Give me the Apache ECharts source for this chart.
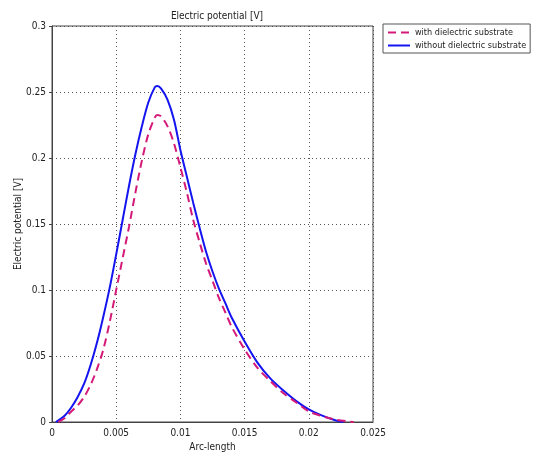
<!DOCTYPE html>
<html>
<head>
    <meta charset="utf-8" />
    <title>Electric potential</title>
    <script src="https://cdn.jsdelivr.net/npm/echarts@6/dist/echarts.min.js"></script>
</head>
<body style="margin:0">
    <div id="main" style="width:534px;height:452px"></div>
    <script type="text/javascript">

        // arc-length [m] vs potential [V]
        var withSub = [[0.0005, 0], [0.001, 0.003], [0.0015, 0.008], [0.002, 0.0125], [0.0025, 0.019], [0.003, 0.028],
            [0.0035, 0.04], [0.004, 0.055], [0.0045, 0.076], [0.005, 0.1], [0.0055, 0.124], [0.006, 0.148],
            [0.0065, 0.174], [0.007, 0.198], [0.0075, 0.218], [0.008, 0.2305], [0.0082, 0.2326], [0.0085, 0.2315],
            [0.009, 0.224], [0.0095, 0.211], [0.010, 0.193], [0.0105, 0.174], [0.011, 0.153], [0.0115, 0.136],
            [0.012, 0.12], [0.0125, 0.107], [0.013, 0.094], [0.0135, 0.083], [0.014, 0.072], [0.015, 0.055],
            [0.016, 0.041], [0.017, 0.031], [0.018, 0.022], [0.019, 0.015], [0.020, 0.008], [0.021, 0.0045],
            [0.022, 0.002], [0.023, 0.0005], [0.0235, 0]];
        var withoutSub = [[0.0003, 0], [0.001, 0.005], [0.0015, 0.011], [0.002, 0.019], [0.0025, 0.029], [0.003, 0.043],
            [0.0035, 0.06], [0.004, 0.08], [0.0045, 0.102], [0.005, 0.127], [0.0055, 0.153], [0.006, 0.179],
            [0.0065, 0.203], [0.007, 0.224], [0.0075, 0.242], [0.008, 0.2535], [0.0082, 0.2545], [0.0085, 0.2525],
            [0.009, 0.244], [0.0095, 0.229], [0.010, 0.206], [0.0105, 0.186], [0.011, 0.166], [0.0115, 0.147],
            [0.012, 0.129], [0.0125, 0.114], [0.013, 0.101], [0.0135, 0.09], [0.014, 0.079], [0.015, 0.061],
            [0.016, 0.045], [0.017, 0.033], [0.018, 0.024], [0.019, 0.016], [0.020, 0.0095], [0.021, 0.005],
            [0.022, 0.0015], [0.0227, 0]];
        var seriesNames = ['with dielectric substrate', 'without dielectric substrate'];

        var chartDom = document.getElementById('main');
        var myChart = echarts.init(chartDom);
        var font = "'DejaVu Sans Condensed', 'Liberation Sans', sans-serif";

        var option = {
            animation: false,
            backgroundColor: '#ffffff',
            title: {
                text: 'Electric potential [V]',
                left: 212, top: 6, textAlign: 'center',
                textStyle: { fontFamily: font, fontSize: 10, fontWeight: 'normal', color: '#222' }
            },
            legend: {
                orient: 'vertical',
                left: 383, top: 24,
                padding: [4, 4, 3, 4],
                itemGap: 4,
                itemWidth: 22, itemHeight: 8,
                itemStyle: { opacity: 0 },
                borderColor: '#555', borderWidth: 1,
                textStyle: { fontFamily: font, fontSize: 9, color: '#222' },
                data: seriesNames
            },
            grid: {
                left: 52, top: 26, right: 161, bottom: 30,
                outerBoundsMode: 'none',
                show: true, borderColor: '#444', borderWidth: 1
            },
            xAxis: {
                type: 'value', min: 0, max: 0.025, interval: 0.005,
                name: 'Arc-length', nameLocation: 'middle', nameGap: 20,
                nameTextStyle: { fontFamily: font, fontSize: 10, color: '#222' },
                axisLine: { lineStyle: { color: '#444' } },
                axisTick: { show: false },
                axisLabel: { fontFamily: font, fontSize: 10, color: '#222', margin: 6 },
                splitLine: { lineStyle: { color: '#555', type: [1, 3] } }
            },
            yAxis: {
                type: 'value', min: 0, max: 0.3, interval: 0.05,
                name: 'Electric potential [V]', nameLocation: 'middle', nameGap: 29,
                nameMoveOverlap: false,
                nameTextStyle: { fontFamily: font, fontSize: 10, color: '#222' },
                axisLine: { show: true, lineStyle: { color: '#444' } },
                axisTick: { show: true, length: 3, lineStyle: { color: '#444' } },
                axisLabel: { fontFamily: font, fontSize: 10, color: '#222', margin: 6 },
                splitLine: { lineStyle: { color: '#555', type: [1, 3] } }
            },
            series: [{
                name: seriesNames[0],
                type: 'line',
                data: withSub,
                smooth: 0.3,
                symbol: 'none',
                z: 3,
                color: '#d41a78',
                lineStyle: { color: '#d41a78', width: 2, type: [8, 5] }
            }, {
                name: seriesNames[1],
                type: 'line',
                data: withoutSub,
                smooth: 0.3,
                symbol: 'none',
                z: 2,
                color: '#1414f0',
                lineStyle: { color: '#1414f0', width: 2 }
            }]
        };

        option && myChart.setOption(option);

    </script>
</body>
</html>
